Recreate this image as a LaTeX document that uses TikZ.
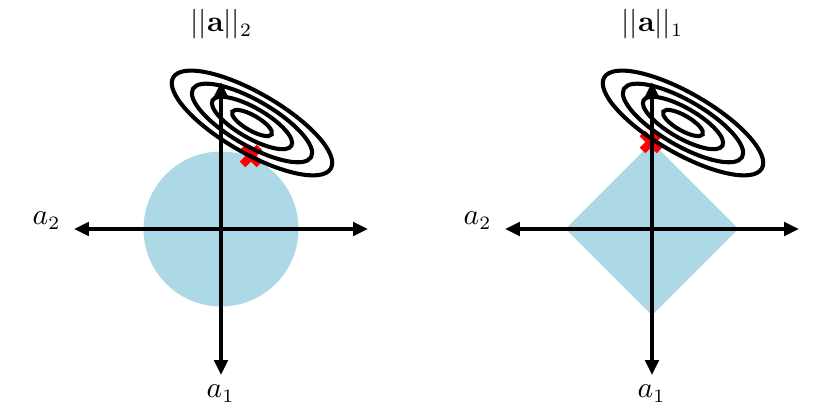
\documentclass[tikz,border=0pt]{standalone}
\usepackage{amsmath,amssymb}
\usepackage{xcolor}
\usetikzlibrary{arrows.meta, positioning}
\definecolor{ballblue}{RGB}{173,216,230}

\begin{document}
\begin{tikzpicture}[
    x=0.37pt, y=0.37pt,
    axis/.style={{Triangle[length=5.5pt, width=5pt]}-{Triangle[length=5.5pt, width=5pt]}, line width=1.2pt},
    contour/.style={line width=1.5pt},
    xmark/.style={red, line width=3pt},
    lbl/.style={anchor=base, inner sep=0pt, font=\fontsize{10.5}{12}\selectfont},
]
\useasboundingbox (0,0) rectangle (831,416);

% Constraint regions
\coordinate (oL) at (221,187);
\coordinate (oR) at (652,187);
\fill[ballblue] (oL) circle[radius=77.5];
\fill[ballblue] (565.5,187) -- (652,273.5) -- (738.5,187) -- (652,100.5) -- cycle;

% Solutions
\coordinate (xL) at (251,260);
\coordinate (xR) at (651,274);
\foreach \p in {L, R} {
    \draw[xmark] (x\p) +(-8.5,-8.5) -- +(8.5,8.5) (x\p) +(-8.5,8.5) -- +(8.5,-8.5);
}

% Loss contours, axes and labels for both panels
\foreach \cx/\p/\norm in {221/L/2, 652/R/1} {
    \coordinate (c\p) at (\cx+31,293);
    \foreach \s in {1, 0.75, 0.5, 0.25} {
        \draw[contour, shift={(c\p)}, rotate=-30] (0,0) ellipse[x radius=91*\s, y radius=30*\s];
    }
    \coordinate (w\p) at (\cx-147,187);
    \coordinate (e\p) at (\cx+147,187);
    \coordinate (n\p) at (\cx,334);
    \coordinate (s\p) at (\cx,41);
    \draw[axis] (w\p) -- (e\p);
    \draw[axis] (s\p) -- (n\p);
    \node[lbl] (atwo\p) at (\cx-174.5,191) {$a_2$};
    \node[lbl] (aone\p) at (\cx-0.5,18) {$a_1$};
    \node[lbl] (title\p) at (\cx+0.5,384) {$||\mathbf{a}||_\norm$};
}

\end{tikzpicture}
\end{document}
